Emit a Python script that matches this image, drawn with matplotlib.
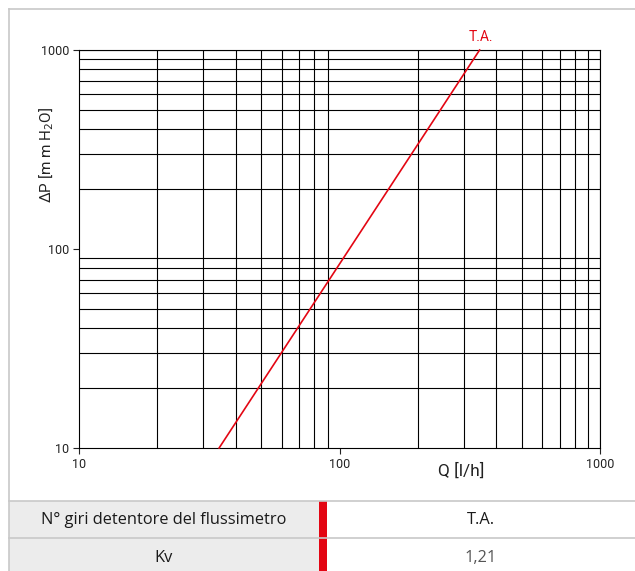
import matplotlib
matplotlib.use("Agg")
import matplotlib.pyplot as plt
from matplotlib.patches import Rectangle
from matplotlib.lines import Line2D
from matplotlib.ticker import FixedLocator, NullLocator, NullFormatter

# data
q_line = [34.5, 345]        # Q [l/h]
dp_line = [10, 1000]        # dP [mm H2O]
line_label = "T.A."
x_major = [10, 100, 1000]
y_major = [10, 100, 1000]
grid_minor = [m * d for d in (10, 100) for m in range(2, 10)]
table_rows = [["N° giri detentore del flussimetro", "T.A."],
              ["Kv", "1,21"]]

W, H = 635, 571
RED = "#e30613"
GREY = "#c8c8c8"
CF = "Roboto"
TF = "Open Sans"

fig = plt.figure(figsize=(W / 100, H / 100), dpi=100)

# background / frame / table axes in pixel coords
bg = fig.add_axes([0, 0, 1, 1], zorder=-1)
bg.set_xlim(0, W); bg.set_ylim(H, 0); bg.axis('off')
bg.add_line(Line2D([9, 9], [H, 9], color=GREY, lw=1.2))
bg.add_line(Line2D([9, W], [9, 9], color=GREY, lw=1.2))

# table
top, mid, bot = 501, 538, H + 2
bg.add_patch(Rectangle((9, top), 319 - 9, bot - top, facecolor="#ececec", edgecolor='none'))
bg.add_patch(Rectangle((319, top), 8, bot - top, facecolor=RED, edgecolor='none'))
for yy in (top, mid):
    bg.add_line(Line2D([9, W], [yy, yy], color=GREY, lw=1.2))
row_y = [(top + mid) / 2, (mid + H) / 2 + 3]
for (lab, val), yy in zip(table_rows, row_y):
    bg.text(164, yy, lab, ha='center', va='center', fontsize=11.8, family=TF, color="#1a1a1a")
    bg.text(481, yy, val, ha='center', va='center', fontsize=11.8, family=TF,
            color="#1a1a1a" if val == "T.A." else "#555555")

# chart
l, r, t, b = 79, 600, 50, 448
ax = fig.add_axes([l / W, 1 - b / H, (r - l) / W, (b - t) / H])
ax.set_xscale('log'); ax.set_yscale('log')
ax.set_xlim(10, 1000); ax.set_ylim(10, 1000)

for v in grid_minor + [1000]:
    ax.axvline(v, color='black', lw=0.8, zorder=1)
    ax.axhline(v, color='black', lw=0.8, zorder=1)
for s in ax.spines.values():
    s.set_linewidth(0.8)

ax.plot(q_line, dp_line, color=RED, lw=1.2, zorder=3, clip_on=False)
ax.text(q_line[-1] * 1.01, dp_line[-1] * 1.07, line_label, color=RED, fontsize=10,
        family=CF, ha='center', va='bottom')

ax.xaxis.set_major_locator(FixedLocator(x_major))
ax.yaxis.set_major_locator(FixedLocator(y_major))
ax.xaxis.set_minor_locator(NullLocator())
ax.yaxis.set_minor_locator(NullLocator())
ax.xaxis.set_minor_formatter(NullFormatter())
ax.yaxis.set_minor_formatter(NullFormatter())
ax.set_xticklabels([str(v) for v in x_major], family=CF, fontsize=9)
ax.set_yticklabels([str(v) for v in y_major], family=CF, fontsize=9)
ax.tick_params(direction='out', length=4, width=0.8, pad=3, top=False, right=False,
               colors='#222222')

fig.text(461 / W, 1 - 471 / H, "Q [l/h]", family=CF, fontsize=12.5, ha='center', va='center',
         color='#222222')
fig.text(47 / W, 1 - 155 / H, "ΔP [m m H$_2$O]", family=CF, fontsize=11,
         rotation=90, ha='center', va='center', color='#222222')

fig.savefig("out.png", dpi=100)
